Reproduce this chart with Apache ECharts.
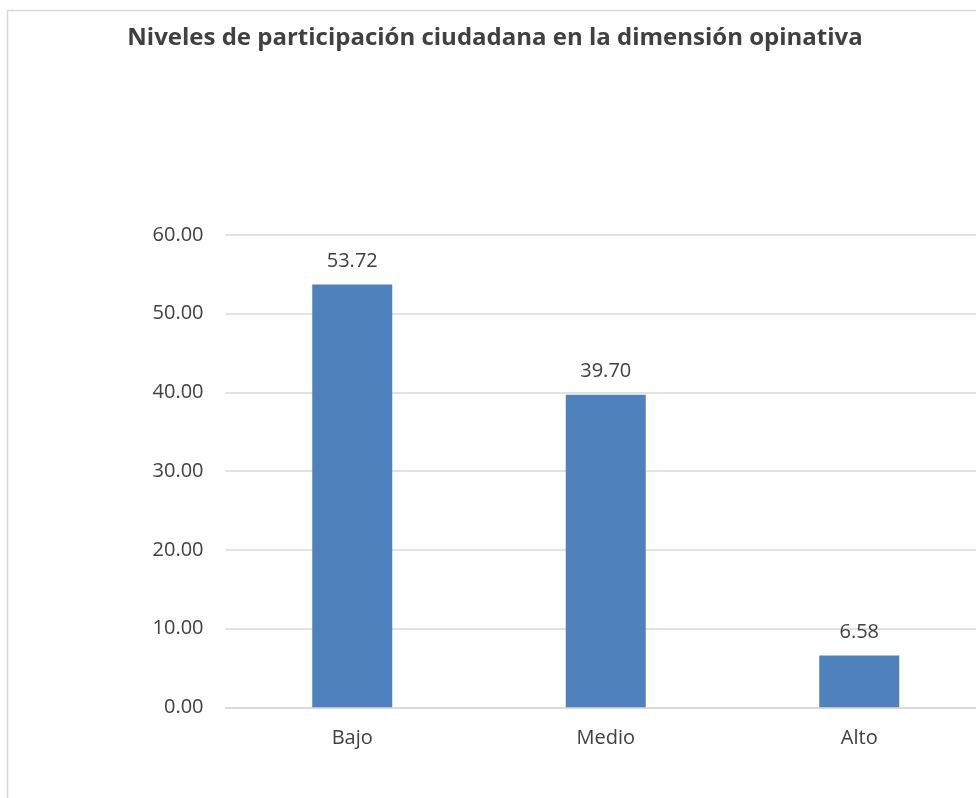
<!DOCTYPE html>
<html>
<head>
<meta charset="utf-8">
<style>
  html, body { margin: 0; padding: 0; background: #ffffff; }
  #chart { width: 976px; height: 798px; }
</style>
<script src="https://cdn.jsdelivr.net/npm/echarts@6/dist/echarts.min.js"></script>
</head>
<body>
<div id="chart"></div>
<script>
const titleText = 'Niveles de participación ciudadana en la dimensión opinativa';
const categories = ['Bajo', 'Medio', 'Alto'];
const values = [53.72, 39.70, 6.58];
const yMin = 0, yMax = 60, yInterval = 10;

const FONT = '"Open Sans", "Liberation Sans", sans-serif';
const TEXT = '#404040';

const chart = echarts.init(document.getElementById('chart'), null, { renderer: 'canvas' });
chart.setOption({
  animation: false,
  backgroundColor: '#ffffff',
  textStyle: { fontFamily: FONT },
  title: {
    text: titleText,
    left: 490,
    textAlign: 'center',
    top: 21,
    textStyle: { fontFamily: FONT, fontWeight: 'bold', fontSize: 24, color: TEXT }
  },
  graphic: [{
    type: 'rect',
    shape: { x: 7.5, y: 10.5, width: 1100, height: 1000 },
    style: { fill: 'none', stroke: '#d9d9d9', lineWidth: 1.5 },
    silent: true,
    z: -1
  }],
  grid: {
    left: 225.5, top: 235, width: 760.5, height: 472.3,
    containLabel: false, outerBoundsMode: 'none'
  },
  xAxis: {
    type: 'category',
    data: categories,
    axisLine: { show: true, lineStyle: { color: '#d9d9d9', width: 1.5 } },
    axisTick: { show: false },
    axisLabel: { color: TEXT, fontSize: 20, fontFamily: FONT, margin: 21 }
  },
  yAxis: {
    type: 'value',
    min: yMin, max: yMax, interval: yInterval,
    axisLine: { show: false },
    axisTick: { show: false },
    splitLine: { lineStyle: { color: '#d9d9d9', width: 1.5 } },
    axisLabel: {
      color: TEXT, fontSize: 20, fontFamily: FONT, margin: 22,
      formatter: v => v.toFixed(2)
    }
  },
  series: [{
    type: 'bar',
    data: values,
    barWidth: 80,
    itemStyle: { color: '#4f81bd' },
    label: {
      show: true,
      position: 'top',
      distance: 13,
      color: TEXT,
      fontSize: 20,
      fontFamily: FONT,
      formatter: p => p.value.toFixed(2)
    }
  }]
});
</script>
</body>
</html>
